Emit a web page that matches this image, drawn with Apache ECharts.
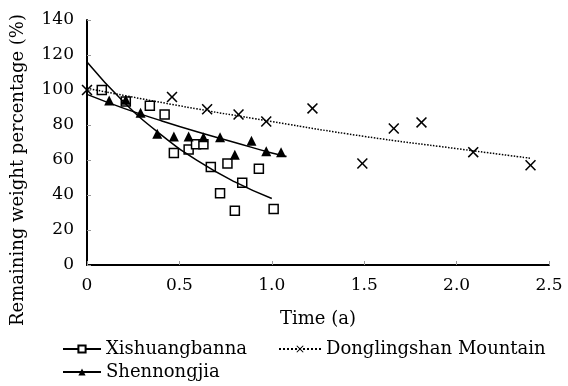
<!DOCTYPE html>
<html>
<head>
<meta charset="utf-8">
<script src="https://cdn.jsdelivr.net/npm/echarts@6/dist/echarts.min.js"></script>
<style>html,body{margin:0;padding:0;background:#fff;}#c{width:568px;height:386px;}</style>
</head>
<body>
<div id="c"></div>
<script>
// Observed data points
const timesX = [0.08, 0.21, 0.34, 0.42, 0.47, 0.55, 0.59, 0.63, 0.67, 0.72, 0.76, 0.80, 0.84, 0.93, 1.01];
const valuesX = [100, 93.5, 91, 86, 64, 66, 69, 69, 56, 41, 58, 31, 47, 55, 32];
const timesS = [0.12, 0.21, 0.29, 0.38, 0.47, 0.55, 0.63, 0.72, 0.80, 0.89, 0.97, 1.05];
const valuesS = [94, 94.5, 87, 75, 73.5, 73.5, 73, 73, 63, 71, 65, 64.5];
const timesD = [0, 0.46, 0.65, 0.82, 0.97, 1.22, 1.49, 1.66, 1.81, 2.09, 2.40];
const valuesD = [100, 96, 89, 86, 82, 89.5, 58, 78, 81.5, 64.5, 57];
// Trend curves
const curveXT = [0, 0.2, 0.4, 0.6, 0.8, 1.0];
const curveXV = [116, 93, 74.5, 59.5, 47.5, 38];
const curveST = [0, 0.2, 0.4, 0.6, 0.8, 1.0, 1.08];
const curveSV = [97.5, 89.5, 82.5, 76, 70, 64, 62];
const curveDT = [0, 0.5, 1.0, 1.5, 2.0, 2.4];
const curveDV = [101, 91, 82, 73.5, 66.5, 61];
// Axis ticks
const xTicks = [0, 0.5, 1.0, 1.5, 2.0, 2.5];
const yTicks = [0, 20, 40, 60, 80, 100, 120, 140];
const names = ['Xishuangbanna', 'Donglingshan Mountain', 'Shennongjia'];

const zip = (a, b) => a.map((v, i) => [v, b[i]]);
const FONT = 'DejaVu Serif';
const xPath = 'path://M0,1L1,0L5,4L9,0L10,1L6,5L10,9L9,10L5,6L1,10L0,9L4,5Z';
const legText = { fontFamily: FONT, fontSize: 18, color: '#000' };

const chart = echarts.init(document.getElementById('c'));
chart.setOption({
  animation: false,
  backgroundColor: '#fff',
  grid: { left: 87, right: 19, top: 20, bottom: 121 },
  xAxis: {
    type: 'value', min: xTicks[0], max: xTicks[xTicks.length - 1], interval: 0.5,
    name: 'Time (a)', nameLocation: 'middle', nameGap: 45,
    nameTextStyle: { fontFamily: FONT, fontSize: 18, color: '#000' },
    axisLine: { lineStyle: { color: '#000', width: 2 } },
    axisTick: { inside: true, length: 4, lineStyle: { color: '#999' } },
    axisLabel: { fontFamily: FONT, fontSize: 17, color: '#000', margin: 12,
      formatter: v => v === 0 ? '0' : v.toFixed(1) },
    splitLine: { show: false }
  },
  yAxis: {
    type: 'value', min: yTicks[0], max: yTicks[yTicks.length - 1], interval: 20,
    axisLine: { show: true, lineStyle: { color: '#000', width: 2 } },
    axisTick: { show: true, inside: true, length: 4, lineStyle: { color: '#999' } },
    axisLabel: { fontFamily: FONT, fontSize: 17, color: '#000', margin: 13 },
    splitLine: { show: false }
  },
  graphic: [{
    type: 'text', x: 18, y: 170, rotation: Math.PI / 2,
    style: { text: 'Remaining weight percentage (%)', fontFamily: FONT, fontSize: 18,
      fill: '#000', align: 'center', verticalAlign: 'middle' }
  }],
  legend: [
    { data: [names[0]], left: 62, top: 340, padding: 0, itemWidth: 38, itemHeight: 9, textStyle: legText },
    { data: [names[1]], left: 278, top: 340, padding: 0, itemWidth: 42, itemHeight: 9, textStyle: legText },
    { data: [names[2]], left: 62, top: 363, padding: 0, itemWidth: 38, itemHeight: 9, textStyle: legText }
  ],
  series: [
    { name: names[0], type: 'line', smooth: true, showSymbol: false, symbol: 'emptyRect', symbolSize: 8,
      data: zip(curveXT, curveXV), lineStyle: { color: '#000', width: 1.5 }, itemStyle: { color: '#000' } },
    { name: names[1], type: 'line', smooth: true, showSymbol: false, symbol: xPath, symbolSize: 8,
      data: zip(curveDT, curveDV), lineStyle: { color: '#000', width: 1.5, type: 'dotted' }, itemStyle: { color: '#000' } },
    { name: names[2], type: 'line', smooth: true, showSymbol: false, symbol: 'triangle', symbolSize: 8,
      data: zip(curveST, curveSV), lineStyle: { color: '#000', width: 1.5 }, itemStyle: { color: '#000' } },
    { name: 'X pts', type: 'scatter', symbol: 'rect', symbolSize: 9, data: zip(timesX, valuesX),
      itemStyle: { color: '#fff', borderColor: '#000', borderWidth: 1.5, opacity: 1 } },
    { name: 'S pts', type: 'scatter', symbol: 'triangle', symbolSize: 10, data: zip(timesS, valuesS),
      itemStyle: { color: '#000', opacity: 1 } },
    { name: 'D pts', type: 'scatter', symbol: xPath, symbolSize: 11, data: zip(timesD, valuesD),
      itemStyle: { color: '#000', opacity: 1 } }
  ]
});
</script>
</body>
</html>
